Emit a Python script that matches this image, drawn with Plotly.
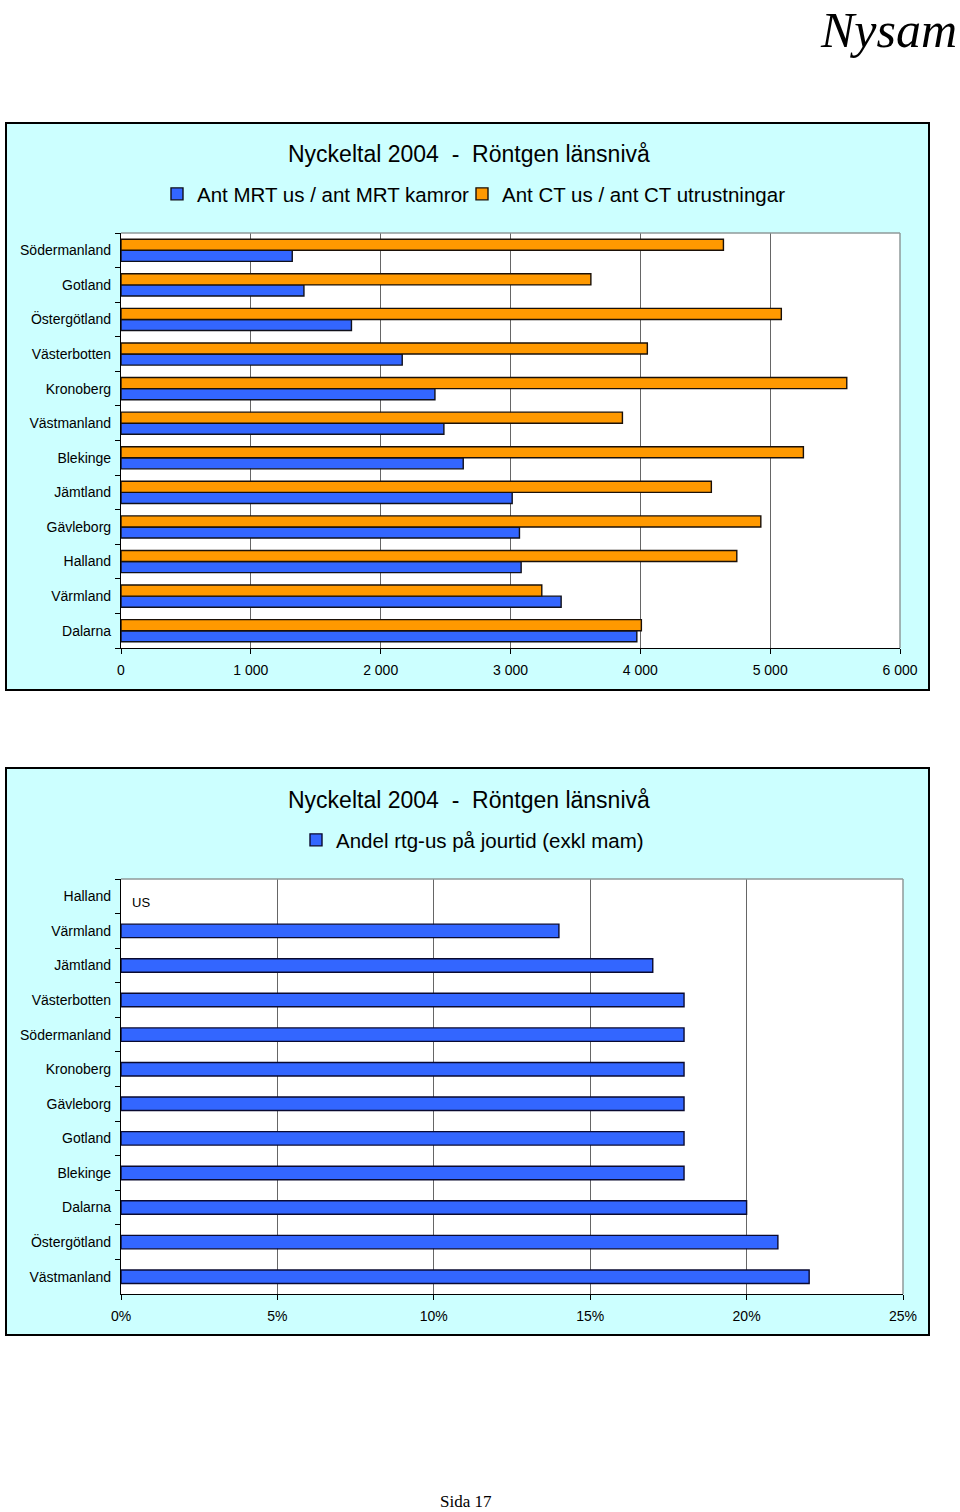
import plotly.graph_objects as go

W, H = 960, 1512

# ---------------- data ----------------
# Chart 1 (listed bottom -> top)
regions1 = ["Dalarna", "Värmland", "Halland", "Gävleborg", "Jämtland", "Blekinge",
            "Västmanland", "Kronoberg", "Västerbotten", "Östergötland", "Gotland", "Södermanland"]
mrt_values = [3973, 3390, 3082, 3069, 3013, 2636, 2487, 2418, 2166, 1775, 1409, 1319]
ct_values = [4008, 3241, 4743, 4928, 4547, 5256, 3862, 5590, 4054, 5086, 3619, 4640]
series1_names = ["Ant MRT us / ant MRT kamror", "Ant CT us / ant CT utrustningar"]

# Chart 2 (listed bottom -> top)
regions2 = ["Västmanland", "Östergötland", "Dalarna", "Blekinge", "Gotland", "Gävleborg",
            "Kronoberg", "Södermanland", "Västerbotten", "Jämtland", "Värmland", "Halland"]
andel_values = [0.22, 0.21, 0.20, 0.18, 0.18, 0.18, 0.18, 0.18, 0.18, 0.17, 0.14, None]
series2_name = "Andel rtg-us på jourtid (exkl mam)"
missing_label = "US"
missing_region = "Halland"

chart_title = "Nyckeltal 2004  -  Röntgen länsnivå"
header_text = "Nysam"
footer_text = "Sida 17"

# ---------------- helpers ----------------
def fx(px):
    return px / W

def fy(py):
    return 1 - py / H

FONT = "Liberation Sans, Arial, sans-serif"
SERIF = "Liberation Serif, Times New Roman, serif"
BLUE = "#3366FF"
ORANGE = "#FF9900"
CYAN = "#CCFFFF"
GRID = "#666666"
FRAME = "#8f9a9a"

fig = go.Figure()

fig.add_trace(go.Bar(
    y=regions1, x=mrt_values, orientation="h", name=series1_names[0],
    marker=dict(color=BLUE, line=dict(color="#10101a", width=1.4)),
    xaxis="x", yaxis="y", legend="legend"))
fig.add_trace(go.Bar(
    y=regions1, x=ct_values, orientation="h", name=series1_names[1],
    marker=dict(color=ORANGE, line=dict(color="#1a1008", width=1.4)),
    xaxis="x", yaxis="y", legend="legend3"))
fig.add_trace(go.Bar(
    y=regions2, x=andel_values, orientation="h", name=series2_name, width=0.39,
    marker=dict(color=BLUE, line=dict(color="#0a0a30", width=1.4)),
    xaxis="x2", yaxis="y2", legend="legend2"))

axis_common = dict(showline=True, linecolor="black", linewidth=1.2, ticks="outside",
                   ticklen=5, tickcolor="black", tickwidth=1.2, zeroline=False,
                   tickfont=dict(size=14, color="black", family=FONT), fixedrange=True,
                   automargin=False)

legend_common = dict(orientation="h", xanchor="left", yanchor="middle",
                     font=dict(size=20.5, family=FONT), bgcolor="rgba(0,0,0,0)",
                     itemwidth=30, itemclick=False, itemdoubleclick=False)

fig.update_layout(
    width=W, height=H, autosize=False,
    margin=dict(l=0, r=0, t=0, b=0, pad=0, autoexpand=False),
    paper_bgcolor="white", plot_bgcolor="rgba(0,0,0,0)",
    font=dict(family=FONT, color="black"),
    barmode="group", bargap=0.36, bargroupgap=0,
    separators=", ",
    xaxis=dict(domain=[fx(121), fx(900)], range=[0, 6000], dtick=1000, anchor="y",
               showgrid=True, gridcolor=GRID, gridwidth=1, tickformat=",d",
               ticklabelstandoff=4, **axis_common),
    yaxis=dict(domain=[fy(648), fy(233)], anchor="x", type="category",
               categoryorder="array", categoryarray=regions1,
               tickson="boundaries", showgrid=False, ticklabelstandoff=6, **axis_common),
    xaxis2=dict(domain=[fx(121), fx(903)], range=[0, 0.25], dtick=0.05, anchor="y2",
                showgrid=True, gridcolor=GRID, gridwidth=1, tickformat=".0%",
                ticklabelstandoff=4, **axis_common),
    yaxis2=dict(domain=[fy(1294), fy(879)], anchor="x2", type="category",
                categoryorder="array", categoryarray=regions2,
                tickson="boundaries", showgrid=False, ticklabelstandoff=6, **axis_common),
    legend=dict(x=fx(157), y=fy(194), **legend_common),
    legend3=dict(x=fx(462), y=fy(194), **legend_common),
    legend2=dict(x=fx(296), y=fy(840), **legend_common),
    showlegend=True,
)

shapes = []
for (top, bot, pl, pt, pr, pb) in [(123, 690, 121, 233, 900, 648), (768, 1335, 121, 879, 903, 1294)]:
    shapes.append(dict(type="rect", xref="paper", yref="paper", layer="below",
                       x0=fx(6), x1=fx(929), y0=fy(bot), y1=fy(top),
                       fillcolor=CYAN, line=dict(color="black", width=2)))
    shapes.append(dict(type="rect", xref="paper", yref="paper", layer="below",
                       x0=fx(pl), x1=fx(pr), y0=fy(pb), y1=fy(pt),
                       fillcolor="white", line=dict(width=0)))
    shapes.append(dict(type="line", xref="paper", yref="paper", layer="above",
                       x0=fx(pl), x1=fx(pr), y0=fy(pt), y1=fy(pt),
                       line=dict(color=FRAME, width=1.5)))
    shapes.append(dict(type="line", xref="paper", yref="paper", layer="above",
                       x0=fx(pr), x1=fx(pr), y0=fy(pb), y1=fy(pt),
                       line=dict(color=FRAME, width=1.5)))
fig.update_layout(shapes=shapes)

annotations = [
    dict(text=chart_title, xref="paper", yref="paper", x=fx(469), y=fy(154),
         xanchor="center", yanchor="middle", showarrow=False,
         font=dict(size=23, family=FONT, color="black")),
    dict(text=chart_title, xref="paper", yref="paper", x=fx(469), y=fy(800),
         xanchor="center", yanchor="middle", showarrow=False,
         font=dict(size=23, family=FONT, color="black")),
    dict(text="<i>" + header_text + "</i>", xref="paper", yref="paper", x=fx(959), y=1,
         xanchor="right", yanchor="top", showarrow=False,
         font=dict(size=50, family=SERIF, color="black")),
    dict(text=footer_text, xref="paper", yref="paper", x=fx(466), y=fy(1501),
         xanchor="center", yanchor="middle", showarrow=False,
         font=dict(size=17, family=SERIF, color="black")),
    dict(text=missing_label, xref="x2", yref="y2", x=0, y=missing_region,
         xanchor="left", yanchor="middle", xshift=9, yshift=-6, showarrow=False,
         font=dict(size=13, family=FONT, color="black")),
]
fig.update_layout(annotations=annotations)

fig.write_html("out.html", post_script="document.body.style.margin='0';",
               config={"displayModeBar": False, "responsive": False})
